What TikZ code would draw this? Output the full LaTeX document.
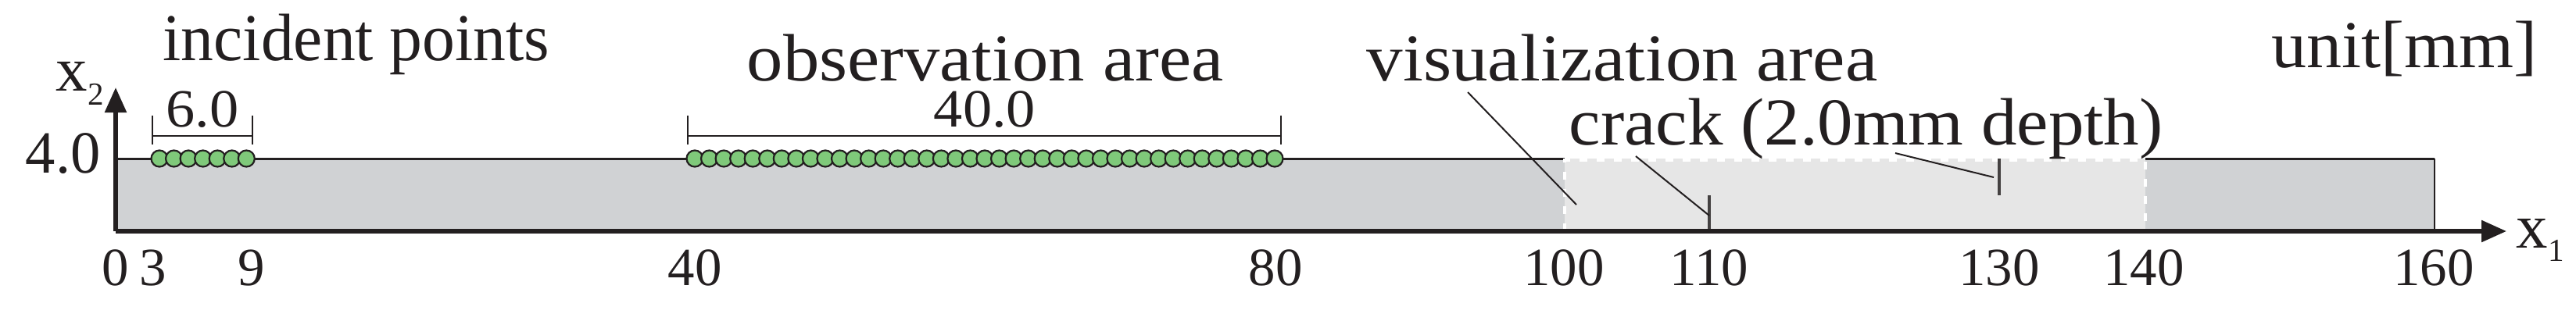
\documentclass[tikz,border=0pt]{standalone}
\usepackage{fontspec}
\setmainfont{Liberation Serif}
\usetikzlibrary{arrows.meta}
\definecolor{platecol}{HTML}{D0D2D4}
\definecolor{viscol}{HTML}{E6E6E6}
\definecolor{probecol}{HTML}{7FC97A}
\definecolor{inkcol}{HTML}{231F20}
\newcommand{\axsub}[1]{\raisebox{-5pt}{\fontsize{11.7pt}{12pt}\selectfont #1}}
\tikzset{
    biglabel/.style={anchor=base west, inner sep=0pt, transform shape, text=inkcol, font=\fontsize{24.4pt}{26pt}\selectfont},
    ticklabel/.style={anchor=base, inner sep=0pt, text=inkcol, font=\fontsize{19.6pt}{21pt}\selectfont},
    dimlabel/.style={anchor=base, inner sep=0pt, transform shape, xscale=1.08, text=inkcol, font=\fontsize{19.6pt}{21pt}\selectfont},
    probe/.style={circle, draw=inkcol, fill=probecol, line width=.022cm, minimum size=.21cm, inner sep=0pt},
    axisline/.style={draw=inkcol, line width=.055cm, -{Triangle[length=.32cm,width=.27cm]}},
    outline/.style={draw=inkcol, line width=.03cm},
    leader/.style={draw=inkcol, line width=.02cm},
    dimline/.style={draw=inkcol, line width=.016cm},
    crackline/.style={draw=inkcol!85, line width=.04cm}
}
\begin{document}
\begin{tikzpicture}
        \useasboundingbox (0,0) rectangle (32.96,4.01);

        % Plate
        \coordinate (O) at (1.48,1.05);
        \coordinate (TL) at (1.48,1.98);
        \coordinate (TR) at (31.15,1.98);
        \coordinate (BR) at (31.15,1.05);
        \coordinate (V1) at (20.02,1.98);
        \coordinate (V2) at (27.45,1.98);
        \fill[platecol] (O) rectangle (TR);
        \draw[outline] (TL) -- (V1);
        \draw[outline] (V2) -- (TR);
        \draw[outline, line width=.02cm] (TR) -- (BR);

        % Visualization area
        \fill[viscol] (20.02,1.05) rectangle (V2);
        \draw[white, line width=.035cm, dash pattern=on .1cm off .12cm] (20.02,1.05) -- (20.02,1.96) -- (27.45,1.96) -- (27.45,1.05);

        % Cracks
        \coordinate (C1a) at (21.87,1.05);
        \coordinate (C1b) at (21.87,1.51);
        \coordinate (C2a) at (25.58,1.98);
        \coordinate (C2b) at (25.58,1.51);
        \draw[crackline] (C1a) -- (C1b);
        \draw[crackline] (C2a) -- (C2b);

        % Axes
        \coordinate (X1) at (32.07,1.05);
        \coordinate (X2) at (1.48,2.89);
        \draw[axisline] (O) -- (X1);
        \draw[axisline] (O) -- (X2);

        % Incident points
        \foreach \i in {0,...,6} {
            \node[probe] (P\i) at ({2.04+\i*.1855},1.98) {};
        }
        \coordinate (D1a) at (1.95,2.53);
        \coordinate (D1b) at (1.95,2.16);
        \coordinate (D1c) at (3.23,2.53);
        \coordinate (D1d) at (3.23,2.16);
        \coordinate (D1e) at (1.95,2.27);
        \coordinate (D1f) at (3.23,2.27);
        \draw[dimline] (D1a) -- (D1b);
        \draw[dimline] (D1c) -- (D1d);
        \draw[dimline] (D1e) -- (D1f);

        % Observation area
        \foreach \i in {0,...,40} {
            \node[probe] (Q\i) at ({8.89+\i*.1855},1.98) {};
        }
        \coordinate (D2a) at (8.80,2.53);
        \coordinate (D2b) at (8.80,2.16);
        \coordinate (D2c) at (16.39,2.53);
        \coordinate (D2d) at (16.39,2.16);
        \coordinate (D2e) at (8.80,2.27);
        \coordinate (D2f) at (16.39,2.27);
        \draw[dimline] (D2a) -- (D2b);
        \draw[dimline] (D2c) -- (D2d);
        \draw[dimline] (D2e) -- (D2f);

        % Leaders
        \coordinate (L1a) at (18.78,2.83);
        \coordinate (L1b) at (20.17,1.39);
        \coordinate (L2a) at (20.93,2.01);
        \coordinate (L2b) at (21.87,1.25);
        \coordinate (L3a) at (24.25,2.05);
        \coordinate (L3b) at (25.51,1.74);
        \draw[leader] (L1a) -- (L1b);
        \draw[leader] (L2a) -- (L2b);
        \draw[leader] (L3a) -- (L3b);

        % Texts
        \node[biglabel, xscale=.975] (incident) at (2.08,3.23) {incident points};
        \node[biglabel, xscale=1.08] (observation) at (9.55,2.98) {observation area};
        \node[biglabel, xscale=1.085] (visualization) at (17.48,2.98) {visualization area};
        \node[biglabel, xscale=1.06] (crack) at (20.07,2.16) {crack (2.0mm depth)};
        \node[biglabel, xscale=1.05] (unit) at (29.06,3.15) {unit[mm]};
        \node[dimlabel] (dimsix) at (2.59,2.38) {6.0};
        \node[dimlabel] (dimforty) at (12.60,2.38) {40.0};
        \node[biglabel, font=\fontsize{21.8pt}{23pt}\selectfont] (height) at (.32,1.79) {4.0};
        \node[biglabel, font=\fontsize{23pt}{25pt}\selectfont] (x2) at (.71,2.84) {x\axsub{2}};
        \node[biglabel, font=\fontsize{23pt}{25pt}\selectfont] (x1) at (32.19,.84) {x\axsub{1}};

        % Tick labels
        \foreach \pos/\lab in {1.48/0,1.96/3,3.22/9,8.89/40,16.32/80,20.01/100,21.87/110,25.58/130,27.43/140,31.14/160} {
            \node[ticklabel] (T\lab) at (\pos,.35) {\lab};
        }
\end{tikzpicture}
\end{document}
